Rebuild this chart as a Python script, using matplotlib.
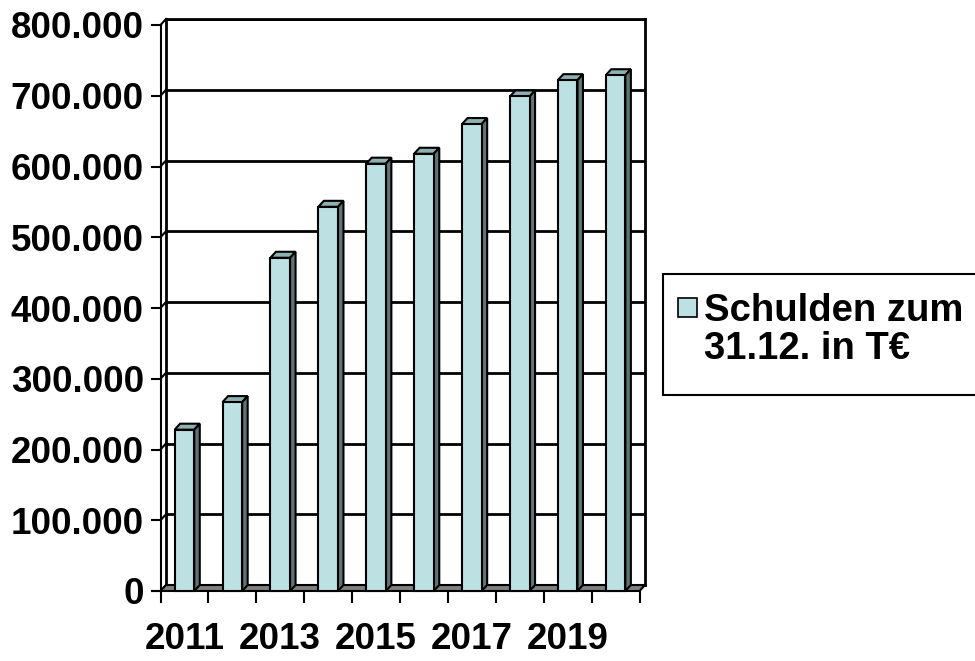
import numpy as np
import matplotlib
matplotlib.use("Agg")
import matplotlib.pyplot as plt
import matplotlib.transforms as mtransforms
from matplotlib.patches import Polygon, Rectangle

# Schulden zum 31.12. in T€
years = ["2011", "2012", "2013", "2014", "2015", "2016", "2017", "2018", "2019", "2020"]
schulden = [228000, 267000, 471000, 543000, 604000, 618000, 660000, 699000, 722000, 729000]
yticks = [0, 100000, 200000, 300000, 400000, 500000, 600000, 700000, 800000]
legend_label = "Schulden zum\n31.12. in T€"

FRONT = "#bde0e3"
SIDE = "#5f7476"
TOP = "#8fb0b2"
FLOOR = "#808080"
FONT = "Liberation Sans"

W, H = 975, 661
fig = plt.figure(figsize=(W / 100, H / 100), dpi=100)

# back wall of the 3d box, in pixels
left, right, top, bottom = 166, 645, 19, 585
ax = fig.add_axes([left / W, 1 - bottom / H, (right - left) / W, (bottom - top) / H])
n = len(years)
ax.set_xlim(0, n)
ax.set_ylim(0, 800000)

# depth offset of the front plane (pixels -> data units)
dpx, dpy = 5.5, 6
ux = n / (right - left)
uy = 800000 / (bottom - top)
DX, DY = dpx * ux, dpy * uy

for s in ax.spines.values():
    s.set_linewidth(2)
    s.set_zorder(1)

# gridlines on the wall + diagonals on the left side wall
for v in yticks:
    ax.plot([0, n], [v, v], color="black", lw=2, zorder=1)
    ax.plot([-DX, 0], [v - DY, v], color="black", lw=1.5, clip_on=False, zorder=1)
    ax.plot([-DX - 9 * ux, -DX], [v - DY, v - DY], color="black", lw=1.5, clip_on=False)

# left side wall front edge
ax.plot([-DX, -DX], [-DY, 800000 - DY], color="black", lw=1.5, clip_on=False)

# floor
floor = Polygon([(-DX, -DY), (n - DX, -DY), (n, 0), (0, 0)], closed=True,
                facecolor=FLOOR, edgecolor="black", lw=1.5, clip_on=False, zorder=2)
ax.add_patch(floor)
ax.plot([-DX - 9 * ux, -DX], [-DY, -DY], color="black", lw=1.5, clip_on=False)
for k in range(n + 1):
    ax.plot([k - DX, k - DX], [-DY, -DY - 11 * uy], color="black", lw=1.5, clip_on=False)

# 3d bars
w = 0.41
x = np.arange(n) + 0.5
for xi, v in zip(x, schulden):
    x0, x1 = xi - w / 2, xi + w / 2
    topface = Polygon([(x0 - DX, v - DY), (x0, v), (x1, v), (x1 - DX, v - DY)],
                      closed=True, facecolor=TOP, edgecolor="black", lw=1.5,
                      clip_on=False, zorder=3)
    side = Polygon([(x1 - DX, -DY), (x1, 0), (x1, v), (x1 - DX, v - DY)],
                   closed=True, facecolor=SIDE, edgecolor="black", lw=1.5,
                   clip_on=False, zorder=3)
    ax.add_patch(topface)
    ax.add_patch(side)
ax.bar(x - DX, schulden, width=w, bottom=-DY, color=FRONT, edgecolor="black",
       lw=1.5, clip_on=False, zorder=4)

# tick labels, shifted onto the front plane
offset = mtransforms.ScaledTranslation(-dpx / 100, -dpy / 100, fig.dpi_scale_trans)
ax.set_yticks(yticks)
ax.set_yticklabels([f"{v:,}".replace(",", ".") for v in yticks],
                   fontsize=26.5, fontweight="bold", family=FONT)
ax.tick_params(axis="y", length=0, pad=12)
ax.set_xticks(x)
ax.set_xticklabels([y if i % 2 == 0 else "" for i, y in enumerate(years)],
                   fontsize=26.5, fontweight="bold", family=FONT)
ax.tick_params(axis="x", length=0, pad=22)
for lab in ax.get_yticklabels() + ax.get_xticklabels():
    lab.set_transform(lab.get_transform() + offset)

# legend box (cut off at the right edge like the original)
fig.add_artist(Rectangle((663 / W, 1 - 395 / H), 340 / W, 121 / H,
                         transform=fig.transFigure, facecolor="white",
                         edgecolor="black", lw=1.5, clip_on=False))
fig.add_artist(Rectangle((678 / W, 1 - 317 / H), 19 / W, 19 / H,
                         transform=fig.transFigure, facecolor=FRONT,
                         edgecolor="black", lw=1.2))
fig.text(704 / W, 1 - 293 / H, legend_label, fontsize=27.5, fontweight="bold",
         family=FONT, va="top", ha="left", linespacing=1.08)

fig.savefig("out.png", dpi=100)
